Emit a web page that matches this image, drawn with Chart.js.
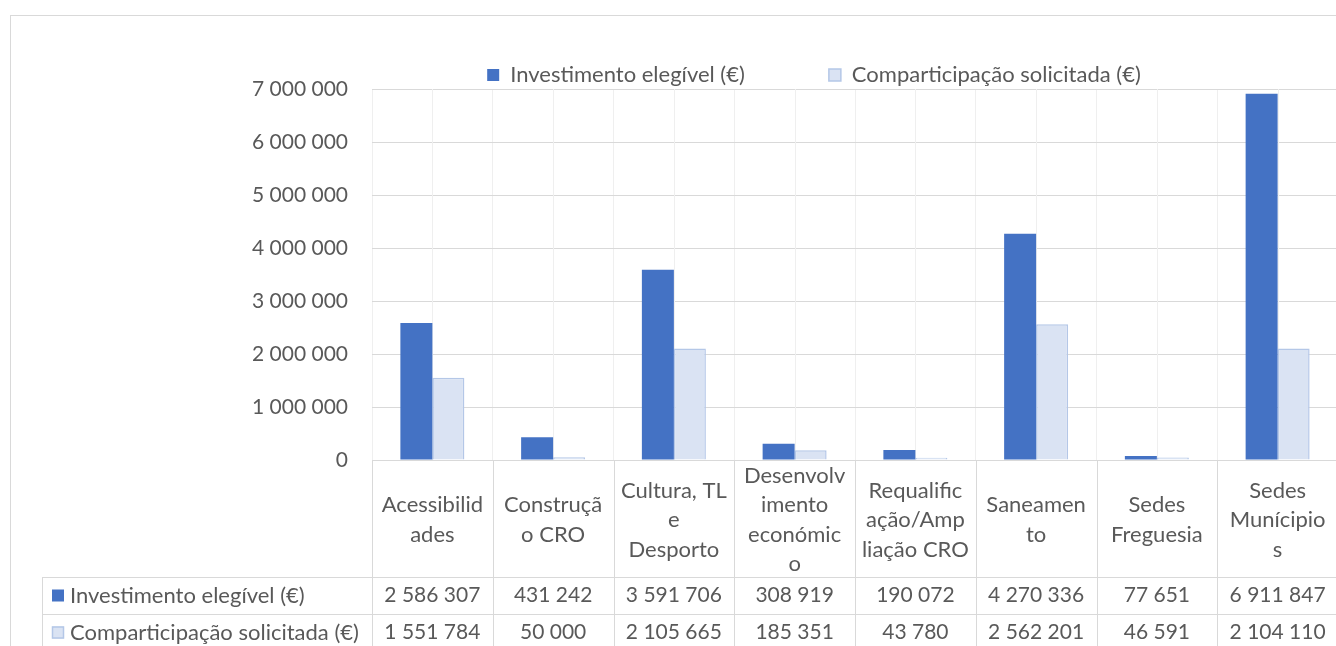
<!DOCTYPE html>
<html lang="pt">
<head>
<meta charset="utf-8">
<title>Investimento elegível e comparticipação solicitada</title>
<script src="https://cdn.jsdelivr.net/npm/chart.js@4.4.1/dist/chart.umd.min.js"></script>
<style>
	html, body { margin: 0; padding: 0; background: #fff; overflow: hidden; }
	#wrapper-chart { width: 1350px; height: 660px; }
	canvas { display: block; }
</style>
</head>
<body>
<div id="wrapper-chart">
	<canvas id="bc-investimento" width="1350" height="660"></canvas>
</div>
<script>
// categories, wrapped the way the cells show them
const categoryLines = [
	["Acessibilid", "ades"],
	["Construçã", "o CRO"],
	["Cultura, TL", "e", "Desporto"],
	["Desenvolv", "imento", "económic", "o"],
	["Requalific", "ação/Amp", "liação CRO"],
	["Saneamen", "to"],
	["Sedes", "Freguesia"],
	["Sedes", "Munícipio", "s"],
];

const seriesNames = ["Investimento elegível (€)", "Comparticipação solicitada (€)"];
const investimento = [2586307, 431242, 3591706, 308919, 190072, 4270336, 77651, 6911847];
const comparticipacao = [1551784, 50000, 2105665, 185351, 43780, 2562201, 46591, 2104110];

const yTicks = [0, 1000000, 2000000, 3000000, 4000000, 5000000, 6000000, 7000000];

const FONT = "Lato";
const TEXT = "#595959";
const LINE = "#D9D9D9";

function fmt(n) {
	return String(n).replace(/\B(?=(\d{3})+(?!\d))/g, " ");
}

// border, centre gridlines and the data table under the plot
const dataTablePlugin = {
	id: "dataTable",
	afterLayout(chart) {
		// Excel centres the legend a bit left of the plot, a bit lower
		chart.legend.left += 40;
		chart.legend.top += 7;
	},
	beforeDraw(chart) {
		let ctx = chart.ctx;
		ctx.save();
		ctx.strokeStyle = LINE;
		ctx.lineWidth = 1;
		ctx.strokeRect(10.5, 15.5, chart.width + 20, chart.height + 20);
		ctx.restore();
	},
	beforeDatasetsDraw(chart) {
		let { ctx, chartArea, scales } = chart;
		ctx.save();
		ctx.strokeStyle = "#EFEFEF";
		ctx.lineWidth = 1;
		categoryLines.forEach((_, i) => {
			let px = Math.round(scales.x.getPixelForValue(i)) + 0.5;
			ctx.beginPath();
			ctx.moveTo(px, chartArea.top);
			ctx.lineTo(px, chartArea.bottom);
			ctx.stroke();
		});
		ctx.restore();
	},
	afterDraw(chart) {
		let { ctx, chartArea, scales } = chart;
		let x = scales.x;
		let n = categoryLines.length;
		let step = x.getPixelForValue(1) - x.getPixelForValue(0);
		let edges = categoryLines.map((_, i) => x.getPixelForValue(i) - step / 2);
		edges.push(x.getPixelForValue(n - 1) + step / 2);

		let top = chartArea.bottom;
		let headH = 117;
		let rowH = 37;
		let keyLeft = 42;
		let bottom = chart.height;

		ctx.save();
		ctx.strokeStyle = LINE;
		ctx.lineWidth = 1;

		// row lines
		ctx.beginPath();
		ctx.moveTo(edges[0], top + 0.5);
		ctx.lineTo(edges[n], top + 0.5);
		for (let r = 0; r < 3; r++) {
			let y = Math.round(top + headH + rowH * r) + 0.5;
			ctx.moveTo(keyLeft, y);
			ctx.lineTo(edges[n], y);
		}
		// column lines
		edges.forEach((e) => {
			let px = Math.round(e) + 0.5;
			ctx.moveTo(px, top);
			ctx.lineTo(px, bottom);
		});
		ctx.moveTo(keyLeft + 0.5, top + headH);
		ctx.lineTo(keyLeft + 0.5, bottom);
		ctx.stroke();

		ctx.fillStyle = TEXT;
		ctx.font = "22px " + FONT;
		ctx.textAlign = "center";
		ctx.textBaseline = "middle";

		// header cells
		let lh = 29.5;
		categoryLines.forEach((lines, i) => {
			let cx = x.getPixelForValue(i);
			let y0 = top + 60 - ((lines.length - 1) * lh) / 2;
			lines.forEach((t, k) => ctx.fillText(t, cx, y0 + k * lh));
		});

		// value rows
		chart.data.datasets.forEach((ds, r) => {
			let yMid = top + headH + rowH * r + rowH / 2;

			ctx.fillStyle = ds.backgroundColor;
			ctx.fillRect(52, yMid - 6, 12, 12);
			if (ds.borderWidth) {
				ctx.strokeStyle = ds.borderColor;
				ctx.lineWidth = ds.borderWidth;
				ctx.strokeRect(52.5, yMid - 5.5, 11, 11);
			}

			ctx.fillStyle = TEXT;
			ctx.font = "22px " + FONT;
			ctx.textAlign = "left";
			ctx.fillText(ds.label, 70, yMid);

			ctx.font = "21px " + FONT;
			ctx.textAlign = "center";
			ds.data.forEach((v, i) => ctx.fillText(fmt(v), x.getPixelForValue(i), yMid));
		});

		ctx.restore();
	},
};

let ctx = document.getElementById("bc-investimento").getContext("2d");

let barChart = new Chart(ctx, {
	type: "bar",
	data: {
		labels: categoryLines,
		datasets: [
			{
				label: seriesNames[0],
				data: investimento,
				backgroundColor: "#4472C4",
				borderColor: "#4472C4",
				borderWidth: 0,
			},
			{
				label: seriesNames[1],
				data: comparticipacao,
				backgroundColor: "#DAE3F3",
				borderColor: "#B4C7E7",
				borderWidth: 1.5,
			},
		],
	},
	options: {
		responsive: false,
		animation: false,
		events: [],
		categoryPercentage: 0.53,
		barPercentage: 1.0,
		layout: {
			padding: { top: -27, left: 250, right: 12, bottom: 0 },
		},
		scales: {
			x: {
				offset: true,
				grid: { offset: true, color: "#EFEFEF", drawTicks: false },
				border: { display: false },
				ticks: { display: false },
				afterFit: (scale) => {
					scale.height = 200;
				},
			},
			y: {
				min: 0,
				max: yTicks[yTicks.length - 1],
				afterBuildTicks: (scale) => {
					scale.ticks = yTicks.map((v) => ({ value: v }));
				},
				grid: { color: LINE, drawTicks: false },
				border: { display: false },
				ticks: {
					color: TEXT,
					padding: 24,
					font: { family: FONT, size: 21 },
					callback: (v) => fmt(v),
				},
				afterFit: (scale) => {
					scale.width = 122;
				},
			},
		},
		plugins: {
			legend: {
				display: true,
				position: "top",
				labels: {
					color: TEXT,
					boxWidth: 12,
					boxHeight: 12,
					padding: 84,
					font: { family: FONT, size: 22, lineHeight: 1 },
				},
			},
			tooltip: { enabled: false },
		},
	},
	plugins: [dataTablePlugin],
});
</script>
</body>
</html>
